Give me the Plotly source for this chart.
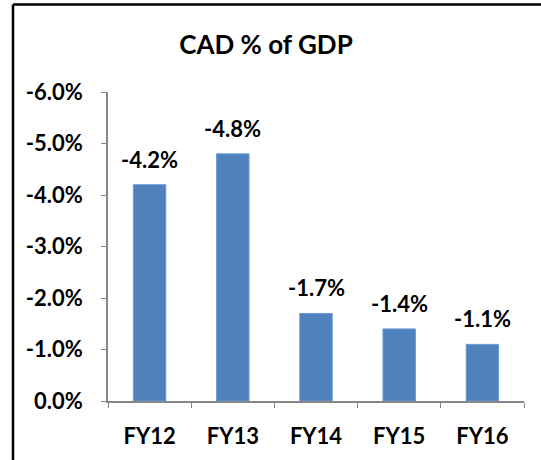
import plotly.graph_objects as go

categories = ["FY12", "FY13", "FY14", "FY15", "FY16"]
cad_pct_gdp = [-4.2, -4.8, -1.7, -1.4, -1.1]
y_tick_values = [0, -1, -2, -3, -4, -5, -6]

FONT = "Lato, sans-serif"

fig = go.Figure()
fig.add_trace(go.Bar(
    x=categories,
    y=cad_pct_gdp,
    marker=dict(color="#4F81BD", line=dict(color="#6E9AD0", width=1)),
    hoverinfo="skip",
))

W, H = 541, 460
L, R, T, B = 108, 17, 92, 59
pw, ph = W - L - R, H - T - B

def px_x(p):
    return (p - L) / pw

def px_y(p):
    return (H - B - p) / ph

annotations = [
    dict(x=c, y=v, xref="x", yref="y", text=f"<b>{v:.1f}%</b>",
         showarrow=False, yanchor="bottom", yshift=10,
         font=dict(family=FONT, size=22, color="black"))
    for c, v in zip(categories, cad_pct_gdp)
]

fig.update_layout(
    width=W, height=H,
    margin=dict(l=L, r=R, t=T, b=B, pad=0),
    paper_bgcolor="white", plot_bgcolor="white",
    showlegend=False,
    bargap=0.61,
    font=dict(family=FONT, color="black"),
    title=dict(text="<b>CAD % of GDP</b>", x=266 / W, xanchor="center",
               y=1 - 45 / H, yanchor="middle",
               font=dict(family=FONT, size=26, color="black")),
    xaxis=dict(
        type="category", range=[-0.5, 4.5],
        tickvals=categories, ticktext=[f"<b>{c}</b>" for c in categories],
        showline=True, linecolor="#868686", linewidth=1.5,
        ticks="outside", tickson="boundaries", ticklen=5, tickcolor="#868686",
        tickfont=dict(family=FONT, size=22, color="black"),
        ticklabelstandoff=15,
        showgrid=False, zeroline=False,
    ),
    yaxis=dict(
        range=[0, -6],
        tickvals=y_tick_values,
        ticktext=[f"<b>{v:.1f}%</b>" for v in y_tick_values],
        showline=True, linecolor="#868686", linewidth=1.5,
        ticks="outside", ticklen=5, tickcolor="#868686",
        tickfont=dict(family=FONT, size=22, color="black"),
        ticklabelstandoff=14,
        showgrid=False, zeroline=False,
    ),
    annotations=annotations,
    shapes=[
        dict(type="line", xref="paper", yref="paper",
             x0=px_x(13), x1=px_x(13), y0=px_y(465), y1=px_y(4.5),
             line=dict(color="black", width=2.5)),
        dict(type="line", xref="paper", yref="paper",
             x0=px_x(13), x1=px_x(545), y0=px_y(4.5), y1=px_y(4.5),
             line=dict(color="black", width=2.5)),
    ],
)

fig.write_html(
    "out.html",
    config={"displayModeBar": False},
    post_script="document.body.style.margin='0px';document.body.style.overflow='hidden';",
)
